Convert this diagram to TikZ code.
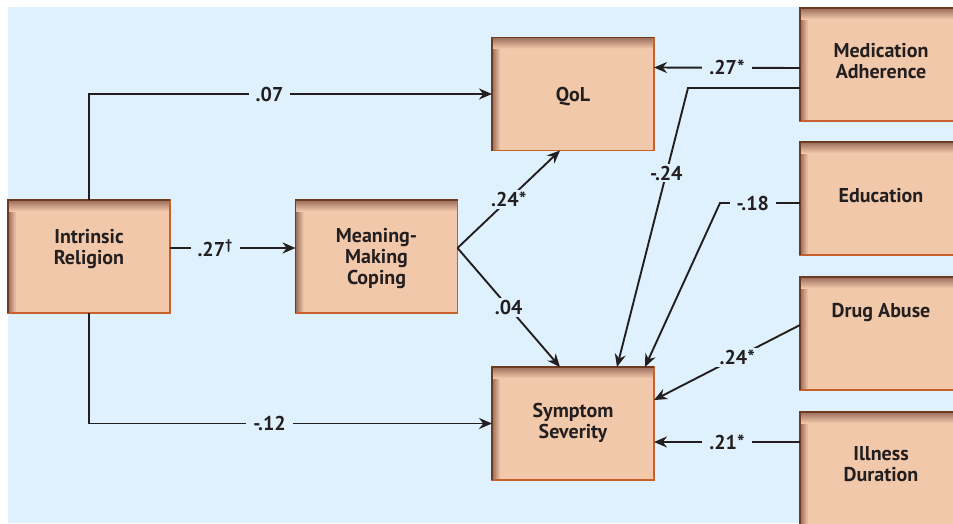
\documentclass[tikz,border=0pt]{standalone}
\usepackage{fontspec}
\setmainfont{PT Sans}
\usetikzlibrary{arrows.meta,calc}
\definecolor{bg}{HTML}{DFF1FC}
\definecolor{peach}{HTML}{F1C8AA}
\definecolor{edgeor}{HTML}{C8602C}
\definecolor{edgedk}{HTML}{6E3A20}
\definecolor{shad}{HTML}{A07260}
\definecolor{ink}{HTML}{231F20}
\tikzset{
 box/.style={fill=peach, minimum width=162pt, minimum height=113pt, inner sep=0pt, outer sep=0pt},
 txt/.style={font=\bfseries\fontsize{20}{21}\selectfont, text=ink, align=center},
 conn/.style={draw=ink, line width=1.9pt, -{Stealth[length=13pt,width=11pt]}},
 plain/.style={draw=ink, line width=1.9pt},
 lab/.style={fill=bg, font=\bfseries\fontsize{20}{21}\selectfont, text=ink, inner xsep=7pt, inner ysep=2pt},
}
\newcommand{\pbox}[3]{%
 \node[box] (#1) at (#2,#3) {};
 \shade[left color=shad, right color=peach] ([xshift=0.75pt,yshift=-0.75pt]#1.north west) rectangle ([xshift=8pt,yshift=0.75pt]#1.south west);
 \shade[top color=shad, bottom color=peach] ([xshift=0.75pt,yshift=-0.75pt]#1.north west) rectangle ([xshift=-0.75pt,yshift=-11pt]#1.north east);
 \draw[edgeor, line width=1.5pt] (#1.north west) rectangle (#1.south east);
 \draw[edgedk, line width=1.5pt] (#1.south west) -- (#1.north west) -- (#1.north east);
}
\begin{document}
\begin{tikzpicture}[x=1pt,y=-1pt]
\useasboundingbox (0,0) rectangle (953,523);
\clip (0,0) rectangle (953,523);
\fill[bg] (8,7) rectangle (953,523);

\pbox{ir}{89}{256.5}
\pbox{mm}{376.5}{256.5}
\pbox{qol}{573}{94}
\pbox{ss}{573}{423.5}
\pbox{med}{881}{64.5}
\pbox{edu}{881}{198.5}
\pbox{drug}{881}{333.5}
\pbox{ill}{881}{468.5}

\node[txt] (irt) at (89,249) {Intrinsic\\Religion};
\node[txt] (mmt) at (376.5,259) {Meaning-\\Making\\Coping};
\node[txt] (qolt) at (573,97) {QoL};
\node[txt] (sst) at (573,423) {Symptom\\Severity};
\node[txt] (medt) at (881,61) {Medication\\Adherence};
\node[txt] (edut) at (881,196) {Education};
\node[txt] (drugt) at (881,313) {Drug Abuse};
\node[txt] (illt) at (881,464) {Illness\\Duration};

\draw[conn] (ir.north) |- (qol.west) node[lab,pos=0.724] (l1) {.07};
\draw[conn] ([yshift=8.5pt]ir.east) -- ([yshift=8.5pt]mm.west) node[lab,pos=0.36] (l2) {.27\textsuperscript{\textdagger}};
\draw[conn] (ir.south) |- (ss.west) node[lab,pos=0.724] (l3) {-.12};
\coordinate (mmout) at ([yshift=8.5pt]mm.east);
\draw[conn] (mmout) -- ([xshift=-13pt]qol.south) node[lab,pos=0.5] (l4) {.24*};
\draw[conn] (mmout) -- ([xshift=-13pt]ss.north) node[lab,pos=0.5] (l5) {.04};
\draw[conn] ([yshift=-3.5pt]med.west) -- ([yshift=26.5pt]qol.east) node[lab,pos=0.5] (l6) {.27*};
\draw[conn] ([yshift=-23.5pt]med.west) -- ++(-112,0) -- ([xshift=44pt]ss.north) node[lab,pos=0.305] (l7) {-.24};
\draw[conn] ([yshift=-4.5pt]edu.west) -- ++(-80,0) node[lab,pos=0.59] (l8) {-.18} -- ([xshift=72pt]ss.north);
\draw[conn] ([yshift=8.5pt]drug.west) -- ([yshift=23.5pt]ss.east) node[lab,pos=0.43] (l9) {.24*};
\draw[conn] ([yshift=26.5pt]ill.west) -- ([yshift=-18.5pt]ss.east) node[lab,pos=0.5] (l10) {.21*};
\end{tikzpicture}
\end{document}
